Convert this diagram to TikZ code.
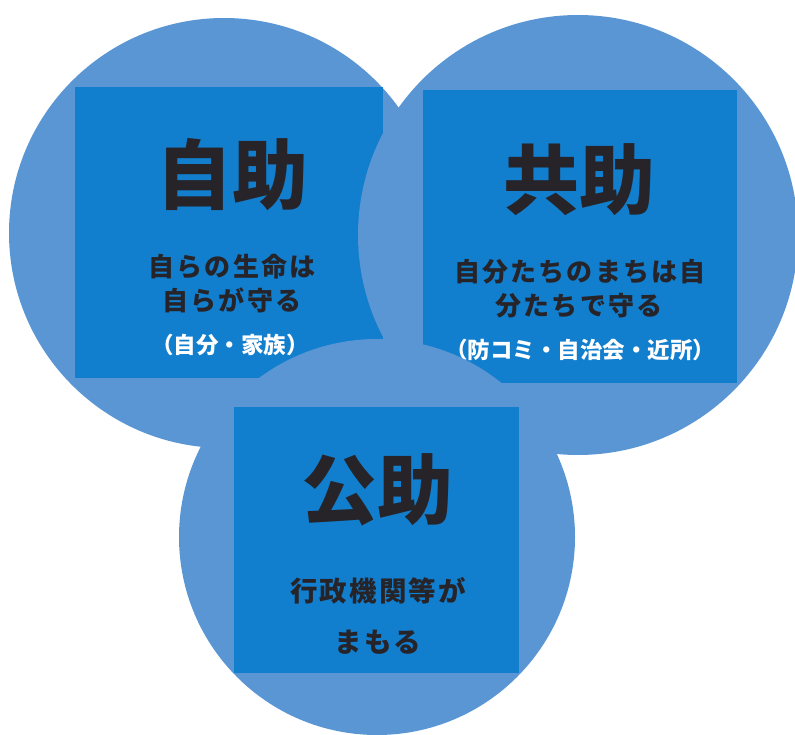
\documentclass[tikz,border=0pt]{standalone}
\usepackage{fontspec}
\newfontfamily\jp{Noto Sans CJK JP}
\newfontfamily\jpsp{Noto Sans CJK JP}[LetterSpace=8]
\definecolor{circ}{RGB}{90,150,212}
\definecolor{sq}{RGB}{18,126,206}
\definecolor{ink}{RGB}{38,36,40}
\begin{document}
\begin{tikzpicture}[x=1pt,y=-1pt]
\tikzset{
  disc/.style={circle, fill=circ, draw=none, minimum size=#1, inner sep=0pt},
  panel/.style 2 args={rectangle, fill=sq, draw=none, minimum width=#1, minimum height=#2, inner sep=0pt},
  ttl/.style={font=\jp\bfseries\fontsize{76}{76}\selectfont, text=ink, inner sep=0pt},
  sub/.style={font=\jpsp\bfseries\fontsize{26}{26}\selectfont, text=ink, inner sep=0pt},
  subb/.style={font=\jpsp\bfseries\fontsize{27.5}{27.5}\selectfont, text=ink, inner sep=0pt},
  paren/.style={font=\jp\bfseries\fontsize{22.5}{22.5}\selectfont, text=white, inner sep=0pt},
}
\useasboundingbox (0,0) rectangle (795,735);
\clip (0,0) rectangle (795,735);
% left
\node[disc=430pt] (cL) at (224,233) {};
\node[panel={308pt}{291pt}] (sL) at (229,232.5) {};
\node[ttl] (tL) at (232,175) {自助};
\node[sub] (aL1) at (232,267) {自らの生命は};
\node[sub] (aL2) at (232,300) {自らが守る};
\node[paren] (pL) at (230,345) {（自分・家族）};
% right
\node[disc=440pt] (cR) at (578,235) {};
\node[panel={314pt}{293pt}] (sR) at (580,236.5) {};
\node[ttl] (tR) at (579,180) {共助};
\node[sub] (aR1) at (580,272) {自分たちのまちは自};
\node[sub] (aR2) at (579,306) {分たちで守る};
\node[paren] (pR) at (580,350) {（防コミ・自治会・近所）};
% bottom
\node[disc=396pt] (cB) at (377,537) {};
\node[panel={285pt}{266pt}] (sB) at (376.5,540) {};
\node[ttl] (tB) at (377,490) {公助};
\node[subb] (aB1) at (378,591) {行政機関等が};
\node[subb] (aB2) at (378,642) {まもる};
\end{tikzpicture}
\end{document}
